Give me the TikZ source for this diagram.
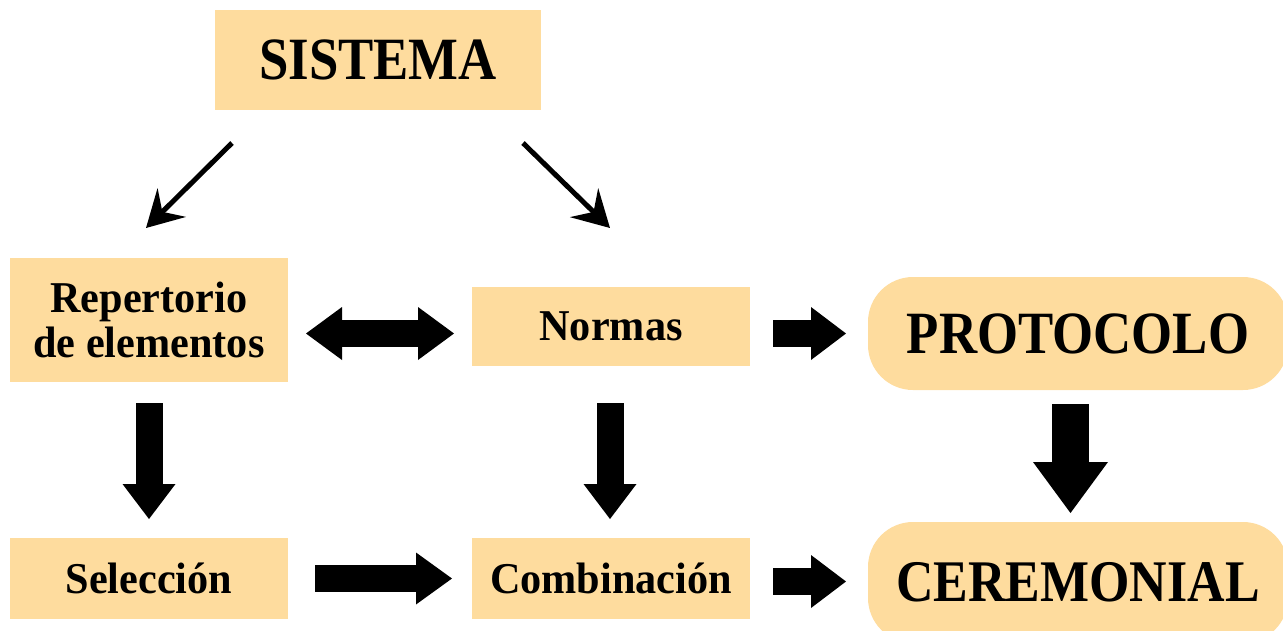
\documentclass[tikz,border=0pt]{standalone}
\usepackage{fontspec}
\setmainfont{Liberation Serif}
\newfontfamily\capsfont{Liberation Serif}[FakeStretch=0.88]
\newfontfamily\smallfont{Liberation Serif}[FakeStretch=0.96]
\usetikzlibrary{arrows.meta}
\definecolor{boxfill}{RGB}{254,220,158}
\begin{document}
\begin{tikzpicture}[x=1pt,y=-1pt,
  box/.style={rectangle, fill=boxfill, inner sep=0pt, align=center},
  capbox/.style={box, rounded corners=45pt, font=\capsfont\bfseries\fontsize{60}{62}\selectfont},
  sqcap/.style={box, font=\capsfont\bfseries\fontsize{60}{62}\selectfont},
  smallbox/.style={box, font=\smallfont\bfseries\fontsize{44}{45}\selectfont},
  thinarrow/.style={line width=5pt, -{Stealth[length=36pt,width=40pt,inset=13pt]}},
  blockarrow/.style={line width=27pt, -{Triangle[length=35pt,width=53pt,line width=0pt]}},
  dblarrow/.style={line width=27pt, {Triangle[length=36pt,width=53pt,line width=0pt]}-{Triangle[length=36pt,width=53pt,line width=0pt]}},
  bigarrow/.style={line width=37pt, -{Triangle[length=51pt,width=75pt,line width=0pt]}}
]
\useasboundingbox (0,0) rectangle (1283,630);
\clip (0,0) rectangle (1283,630);

% nodes
\node[sqcap, minimum width=326pt, minimum height=100pt] (sistema) at (378,60) {SISTEMA};
\node[smallbox, minimum width=278pt, minimum height=124pt] (rep) at (149,320) {Repertorio\\de elementos};
\node[smallbox, minimum width=278pt, minimum height=79pt] (normas) at (611,326.5) {Normas};
\node[capbox, minimum width=420pt, minimum height=113pt] (proto) at (1078,333.5) {PROTOCOLO};
\node[capbox, minimum width=420pt, minimum height=121pt, font=\capsfont\bfseries\fontsize{59}{60}\selectfont] (cere) at (1078,582.5) {CEREMONIAL};
\node[smallbox, minimum width=278pt, minimum height=81pt] (selec) at (149,578.5) {Selección};
\node[smallbox, minimum width=278pt, minimum height=81pt] (combi) at (611,578.5) {Combinación};

% connector end points
\coordinate (s1a) at (232,143);
\coordinate (s1b) at (146,228);
\coordinate (s2a) at (523,143);
\coordinate (s2b) at (610,228);
\coordinate (d1a) at (306,333.5);
\coordinate (d1b) at (454,333.5);
\coordinate (np1) at (773,333.5);
\coordinate (np2) at (846,333.5);
\coordinate (cc1) at (773,581.5);
\coordinate (cc2) at (846,581.5);
\coordinate (sc1) at (315,578.5);
\coordinate (sc2) at (452,578.5);
\coordinate (rs1) at (149,403);
\coordinate (rs2) at (149,519);
\coordinate (nc1) at (610,403);
\coordinate (nc2) at (610,519);
\coordinate (pc1) at (1070.5,404);
\coordinate (pc2) at (1070.5,513);

% connectors
\draw[thinarrow] (s1a) -- (s1b);
\draw[thinarrow] (s2a) -- (s2b);
\draw[dblarrow] (d1a) -- (d1b);
\draw[blockarrow] (np1) -- (np2);
\draw[blockarrow] (cc1) -- (cc2);
\draw[blockarrow, -{Triangle[length=36pt,width=52pt,line width=0pt]}] (sc1) -- (sc2);
\draw[blockarrow] (rs1) -- (rs2);
\draw[blockarrow] (nc1) -- (nc2);
\draw[bigarrow] (pc1) -- (pc2);
\end{tikzpicture}
\end{document}
